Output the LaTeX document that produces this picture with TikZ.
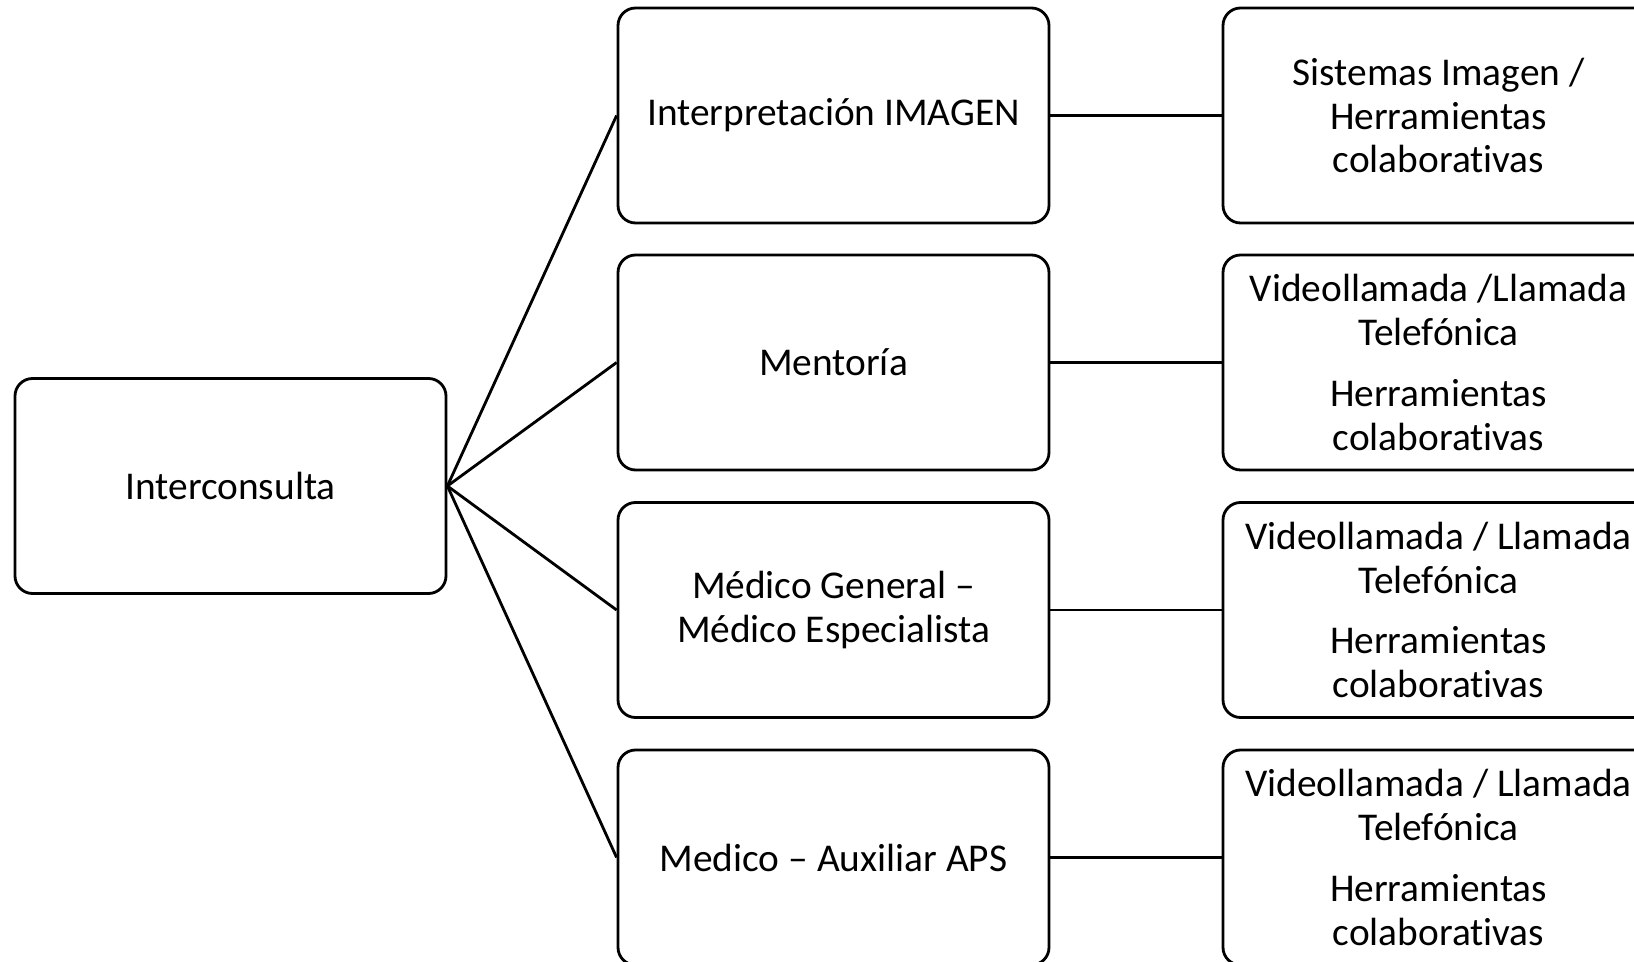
\documentclass[tikz,border=0pt]{standalone}
\usepackage{fontspec}
\setmainfont[Ligatures=NoCommon]{Carlito}
\usetikzlibrary{positioning}

\begin{document}
\begin{tikzpicture}[
  every node/.style={font=\fontsize{11.2}{12.5}\selectfont},
  mapbox/.style={draw=black, line width=0.8pt, fill=white, rounded corners=5pt,
                 minimum width=4.31cm, minimum height=2.15cm, align=center,
                 inner sep=0pt},
  link/.style={draw=black, line width=0.8pt}
]

\useasboundingbox (0,0) rectangle (16.34,9.61);
\clip (0,0) rectangle (16.34,9.61);
\fill[white] (0,0) rectangle (16.34,9.61);

% root
\node[mapbox] (ic) at (2.305, 4.75) {Interconsulta};

% middle column
\node[mapbox] (m1) at (8.335, 8.455) {Interpretación IMAGEN};
\node[mapbox] (m2) at (8.335, 5.985) {Mentoría};
\node[mapbox] (m3) at (8.335, 3.51)  {Médico General –\\Médico Especialista};
\node[mapbox] (m4) at (8.335, 1.035) {Medico – Auxiliar APS};

% right column
\node[mapbox] (h1) at (14.385, 8.455) {%
  Sistemas Imagen /\\
  Herramientas\\
  colaborativas};
\node[mapbox] (h2) at (14.385, 5.985) {%
  Videollamada /Llamada\\
  Telefónica\\[4.7pt]
  Herramientas\\
  colaborativas};
\node[mapbox] (h3) at (14.385, 3.51) {%
  Videollamada / Llamada\\
  Telefónica\\[4.7pt]
  Herramientas\\
  colaborativas};
\node[mapbox] (h4) at (14.385, 1.035) {%
  Videollamada / Llamada\\
  Telefónica\\[4.7pt]
  Herramientas\\
  colaborativas};

\draw[link] (ic.east) -- (m1.west);
\draw[link] (ic.east) -- (m2.west);
\draw[link] (ic.east) -- (m3.west);
\draw[link] (ic.east) -- (m4.west);

\draw[link] (m1.east) -- (h1.west);
\draw[link] (m2.east) -- (h2.west);
\draw[link] (m3.east) -- (h3.west);
\draw[link] (m4.east) -- (h4.west);

\end{tikzpicture}
\end{document}
